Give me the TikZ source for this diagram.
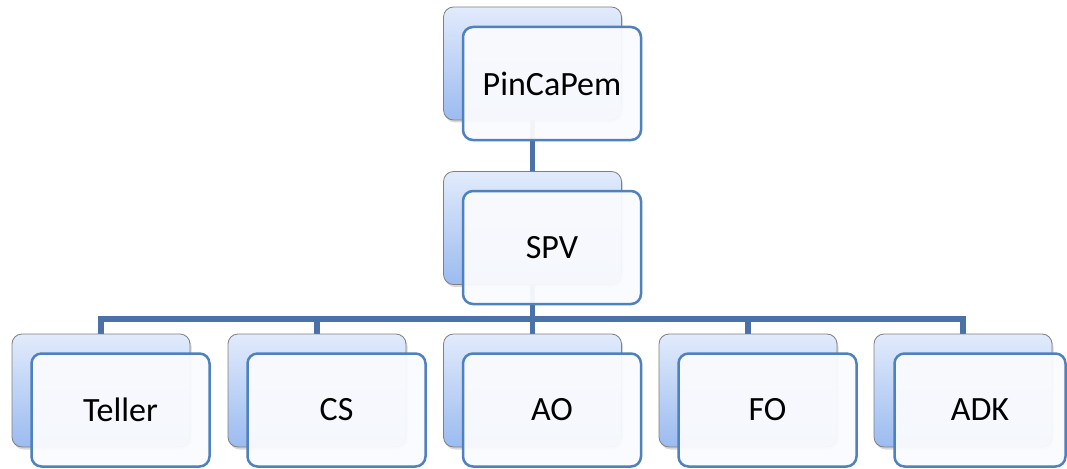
\documentclass[tikz,border=0pt]{standalone}
\usepackage{fontspec}
\setmainfont{Carlito}
\usetikzlibrary{shadows}
\pgfdeclarelayer{canvas}
\pgfdeclarelayer{background}
\pgfsetlayers{canvas,background,main}
\definecolor{backtop}{RGB}{226,235,252}
\definecolor{backbot}{RGB}{155,187,240}
\definecolor{backline}{RGB}{128,128,128}
\definecolor{frontline}{RGB}{79,129,189}
\definecolor{frontfill}{RGB}{250,251,254}
\definecolor{conncol}{RGB}{74,114,168}
\tikzset{
  backbox/.style={rectangle, rounded corners=10pt, minimum width=178pt,
    minimum height=113pt, inner sep=0pt, draw=backline, line width=0.8pt,
    top color=backtop, bottom color=backbot,
    drop shadow={shadow xshift=1.5pt, shadow yshift=-2.5pt, opacity=0.3}},
  frontbox/.style={rectangle, rounded corners=10pt, minimum width=178pt,
    minimum height=113pt, inner sep=0pt, draw=frontline, line width=2.5pt,
    fill=frontfill, fill opacity=0.95, text opacity=1, text=black,
    font=\fontsize{34}{40}\selectfont},
  conn/.style={draw=conncol, line width=5.5pt}
}
\begin{document}
\begin{tikzpicture}[x=1pt,y=-1pt]
\begin{pgfonlayer}{canvas}
\fill[white] (0,0) rectangle (1067,468);
\end{pgfonlayer}
\useasboundingbox (0,0) rectangle (1067,468);
% top level
\node[backbox] (pb) at (532.5,63.5) {};
\node[frontbox] (p) at (552,83.5) {PinCaPem};
% second level
\node[backbox] (sb) at (532.5,228) {};
\node[frontbox] (s) at (552,247.5) {SPV};
% bottom level
\node[backbox] (tb) at (101,390.5) {};
\node[frontbox] (t) at (120.5,410) {Teller};
\node[backbox] (cb) at (317,390.5) {};
\node[frontbox] (c) at (336.5,410) {CS};
\node[backbox] (ab) at (532.5,390.5) {};
\node[frontbox] (a) at (552,410) {AO};
\node[backbox] (fb) at (748,390.5) {};
\node[frontbox] (f) at (767.5,410) {FO};
\node[backbox] (db) at (963,390.5) {};
\node[frontbox, minimum width=171pt] (d) at (980,410) {ADK};
\coordinate (bus) at (532.5,319);
\begin{pgfonlayer}{background}
\draw[conn] (pb.south) -- (sb.north);
\draw[conn] (sb.south) -- (sb.south |- bus) -| (tb.north);
\draw[conn] (sb.south |- bus) -| (cb.north);
\draw[conn] (sb.south) -- (ab.north);
\draw[conn] (sb.south |- bus) -| (fb.north);
\draw[conn] (sb.south |- bus) -| (db.north);
\end{pgfonlayer}
\end{tikzpicture}
\end{document}
